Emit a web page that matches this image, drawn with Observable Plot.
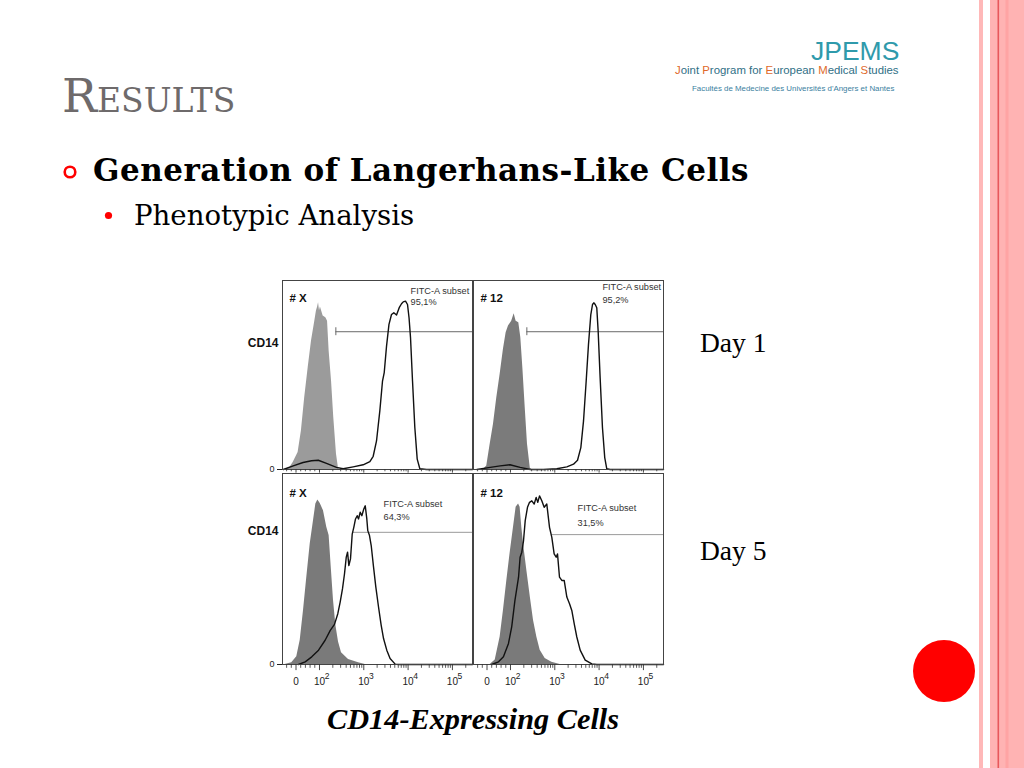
<!DOCTYPE html>
<html><head><meta charset="utf-8">
<script src="https://cdn.jsdelivr.net/npm/d3@7"></script>
<script src="https://cdn.jsdelivr.net/npm/@observablehq/plot@0.6"></script>
<style>
html,body{margin:0;padding:0;background:#fff;}
#slide{position:relative;width:1024px;height:768px;overflow:hidden;background:#fff;}
.panel{position:absolute;}
.panel svg{overflow:visible;}
</style></head>
<body>
<div id="slide">
<svg id="bg" width="1024" height="768" style="position:absolute;left:0;top:0">
  <rect x="979" y="0" width="4" height="768" fill="#ffb8b8"/>
  <rect x="990" y="0" width="34" height="768" fill="#ffb3b3"/>
  <rect x="997.5" y="0" width="1.6" height="768" fill="#e8585c"/>
  <rect x="1005.5" y="0" width="3" height="768" fill="#ffa4a4"/>
  <circle cx="944" cy="671" r="31" fill="#ff0000"/>
  <text x="62" y="112" font-family="DejaVu Serif" font-size="46.5" style="font-variant:small-caps" fill="#6e6a6b">Results</text>
  <circle cx="70" cy="172" r="5.3" fill="none" stroke="#ff0000" stroke-width="2.6"/>
  <text x="93" y="181" font-family="DejaVu Serif" font-weight="bold" font-size="31" letter-spacing="0.5" fill="#000">Generation of Langerhans-Like Cells</text>
  <circle cx="108.5" cy="215.5" r="3.6" fill="#ff0000"/>
  <text x="134" y="225" font-family="DejaVu Serif" font-size="27.6" fill="#000">Phenotypic Analysis</text>
  <text x="811" y="60" font-family="Liberation Sans" font-size="26.5" fill="#2f9aab">JPEMS</text>
  <text x="675" y="74" font-family="Liberation Sans" font-size="11.4" fill="#2f6f86"><tspan fill="#e0692a">J</tspan>oint <tspan fill="#e0692a">P</tspan>rogram for <tspan fill="#e0692a">E</tspan>uropean <tspan fill="#e0692a">M</tspan>edical <tspan fill="#e0692a">S</tspan>tudies</text>
  <text x="692" y="91" font-family="Liberation Sans" font-size="7.9" fill="#3a80a0">Facultés de Medecine des Universités d'Angers et Nantes</text>
  <text x="700" y="352" font-family="Liberation Serif" font-size="27.5" fill="#000">Day 1</text>
  <text x="700" y="560" font-family="Liberation Serif" font-size="27.5" fill="#000">Day 5</text>
  <text x="327" y="729" font-family="Liberation Serif" font-weight="bold" font-style="italic" font-size="30.3" fill="#000">CD14-Expressing Cells</text>
</svg>
</div>
<script>
// ---- data: [fluorescence intensity (FITC-A), % of frame height] ----
const sampleNames = ["# X", "# 12", "# X", "# 12"];
const subsetPct = ["95,1%", "95,2%", "64,3%", "31,5%"];
const dayLabels = ["Day 1", "Day 5"];

// Day 1, sample #X
const day1X_iso = [[-48,0],[-26,1],[-12,3.7],[9,9],[23,20.4],[37,38],[52,54],[66,68],[80,78.5],[87,83.8],[92,86],[96,88.2],[100,84],[105,86],[121,81.2],[139,80.3],[152,78.5],[165,62.7],[187,46.8],[210,27.5],[242,8.1],[269,0.4],[288,0]];
const day1X_cd14 = [[-54,0],[-12,1.9],[30,3.7],[66,4.6],[95,4.9],[144,3.2],[242,1.1],[343,0.4],[576,1.4],[967,2.5],[1370,4.2],[1630,7],[1937,15.1],[2300,31],[2645,46.8],[2890,51.2],[3260,65.3],[3700,76.8],[4220,82],[4760,82.9],[5480,81.7],[6300,85.6],[7100,87.7],[7760,88.7],[8740,89.1],[9700,87.3],[10500,80.3],[11340,69.7],[12580,46.8],[14180,22.2],[16050,5.5],[18400,0.4],[26000,0],[284000,0]];
// Day 1, sample #12
const day1_12_iso = [[-15,0],[-1,1.9],[13.5,13.4],[27.6,24],[41.7,38],[56,50.4],[70,63.6],[81.5,72.4],[91.5,75.9],[106.5,78.5],[121,82.4],[134,78.5],[154,77.6],[171,69.7],[190,53.9],[215,32.7],[242,13.4],[280,0.7],[303,0]];
const day1_12_cd14 = [[-43,0],[13.5,1.1],[56,1.9],[98,2.5],[165,1.1],[280,0],[556,0],[1110,0.4],[1870,1.4],[2645,2.8],[3260,4.9],[3870,11.6],[4450,25.7],[5110,46.8],[5760,66.2],[6500,82],[7100,87.3],[7590,88.2],[8170,87.3],[8860,85.6],[9520,73.2],[10550,48.6],[11900,22.2],[13400,6.3],[14860,0.4],[17700,0],[284000,0]];
// Day 5, sample #X
const day5X_iso = [[-46.5,0],[-18,0.9],[3.3,4],[18,12.7],[32,28.3],[46,45.7],[60.5,63.1],[74.5,75.3],[84.5,84],[93,86.1],[104,84.3],[123,80.5],[146,71.8],[165,67.5],[184,51],[207,33.6],[234,20.5],[269,11.8],[314,6.1],[452,2.6],[760,0.9],[1078,0]];
const day5X_cd14 = [[10.6,0],[39,1.4],[67,4],[96,7.5],[134,12.7],[175,17.9],[218,21],[259,26.6],[293,32.7],[331,39.7],[367,47.5],[402,56.2],[430,58.8],[460,51.8],[501,55.3],[548,68.3],[595,71.8],[650,76.2],[710,77.9],[760,76.2],[830,79.7],[904,77.9],[1000,81.4],[1078,83.1],[1170,76.2],[1230,70.1],[1345,67.5],[1470,62.3],[1660,51],[1870,40.5],[2150,30.1],[2470,20.5],[2790,13.6],[3300,7.5],[3920,3.1],[5110,0.2],[6080,0],[284000,0]];
// Day 5, sample #12
const day5_12_iso = [[13.5,0],[35,2.3],[56,14.4],[70,28.3],[84.5,44],[98,57.9],[117,71.8],[134,82.3],[152,84],[165,82.3],[180,71.8],[197,63.1],[234,49.2],[280,35.3],[331,23.1],[393,14.4],[468,7.5],[606,3.1],[857,1.2],[1320,0]];
const day5_12_cd14 = [[20.4,0],[49,1.4],[70,4],[91.5,11],[106.5,19.7],[126,33.6],[152,45.7],[165,56.2],[180,58.8],[197,64.9],[215,75.3],[242,82.3],[269,84.9],[303,85.7],[343,84],[380,87.5],[413,84.9],[452,88.3],[509,85.7],[576,82.3],[660,84],[760,71.8],[857,66.6],[967,57.9],[1074,56.2],[1151,57.9],[1277,45.7],[1440,44],[1630,44],[1870,35.3],[2150,31.8],[2420,28.3],[2740,21.4],[3140,14.4],[3740,7.5],[4860,2.3],[6850,0.3],[8860,0],[284000,0]];

// FITC-A subset gates: level (% height) and start intensity
const gateLevel = [72.9, 72.9, 69.2, 68];
const gateStart = [234, 234, 585, 857];

// x-axis ticks (biexponential display)
const majorTicks = [0, 100, 1000, 10000, 100000];
const tickBase = ["0", "10", "10", "10", "10"];
const tickExp = ["", "2", "3", "4", "5"];
const minorTicks = [-40,-20,20,40,60,80,200,300,400,500,600,700,800,900,2000,3000,4000,5000,6000,7000,8000,9000,20000,30000,40000,50000,60000,70000,80000,90000,200000];

// ---- biexponential-like transform (linear near zero, log above 100) ----
const X_MIN = -57.5, X_MAX = 284000;
const g = v => v >= 100 ? Math.log10(v) : 1.47 + v * 0.0053;

const panels = [
  {left:232, top:278, col:0, row:0, iso:day1X_iso,  cd14:day1X_cd14,  fill:"#9b9b9b", label:[11340, 94.2, 88.4]},
  {left:472, top:278, col:1, row:0, iso:day1_12_iso, cd14:day1_12_cd14, fill:"#7b7b7b", label:[11900, 96.3, 89.9]},
  {left:232, top:471, col:0, row:1, iso:day5X_iso,  cd14:day5X_cd14,  fill:"#7a7a7a", label:[2790, 83.8, 77]},
  {left:472, top:471, col:1, row:1, iso:day5_12_iso, cd14:day5_12_cd14, fill:"#7a7a7a", label:[3260, 81.7, 74.3]}
];

const slide = document.getElementById("slide");
panels.forEach((p, k) => {
  const isLeft = p.col === 0, isBottom = p.row === 1;
  const innerW = 190, innerH = isBottom ? 191 : 189;
  const mL = isLeft ? 50 : 1, mR = isLeft ? 1 : 4, mT = 2, mB = isBottom ? 30 : 6;
  const tickLen = isBottom ? 2 : 1.2;
  const gate = [{y: gateLevel[k], x1: gateStart[k], x2: X_MAX}];
  const marks = [
    Plot.areaY(p.iso, {x: d => d[0], y: d => d[1], fill: p.fill}),
    Plot.ruleY(gate, {y: "y", x1: "x1", x2: "x2", stroke: isBottom ? "#9a9a9a" : "#6a6a6a", strokeWidth: 1}),
    Plot.lineY(p.cd14, {x: d => d[0], y: d => d[1], stroke: "#111", strokeWidth: 1.4}),
    Plot.frame({stroke: "#444", strokeWidth: 1}),
    Plot.ruleX(minorTicks, {x: d => d, y1: 0, y2: -tickLen, stroke: "#333", strokeWidth: 0.8}),
    Plot.ruleX(majorTicks, {x: d => d, y1: 0, y2: -tickLen * 1.6, stroke: "#333", strokeWidth: 0.9}),
    Plot.text([sampleNames[k]], {frameAnchor: "top-left", dx: 7, dy: isBottom ? 15 : 13, textAnchor: "start", fontWeight: "bold", fontSize: 11.5, fill: "#111"}),
    Plot.text(["FITC-A subset"], {x: () => p.label[0], y: () => p.label[1], textAnchor: "start", fontSize: 9.2, fill: "#333"}),
    Plot.text([subsetPct[k]], {x: () => p.label[0], y: () => p.label[2], textAnchor: "start", fontSize: 9.2, fill: "#333"})
  ];
  if (!isBottom) {
    marks.push(Plot.ruleX(gate, {x: "x1", y1: d => d.y - 2.1, y2: d => d.y + 2.1, stroke: "#6a6a6a", strokeWidth: 1}));
  }
  if (isLeft) {
    marks.push(Plot.text(["CD14"], {frameAnchor: "left", y: () => isBottom ? 70 : 67, dx: -4, textAnchor: "end", fontWeight: "bold", fontSize: 12, fill: "#111"}));
  }
  if (isBottom) {
    marks.push(Plot.text(majorTicks, {x: d => d, frameAnchor: "bottom", dy: 20, text: (d, i) => tickBase[i], fontSize: 10, fill: "#222"}));
    marks.push(Plot.text(majorTicks, {x: d => d, frameAnchor: "bottom", dx: 7.5, dy: 14, text: (d, i) => tickExp[i], fontSize: 8.5, fill: "#222"}));
  }
  const chart = Plot.plot({
    width: mL + innerW + mR,
    height: mT + innerH + mB,
    marginLeft: mL, marginRight: mR, marginTop: mT, marginBottom: mB,
    x: {type: "linear", transform: g, domain: [X_MIN, X_MAX].map(g), axis: null},
    y: {domain: [0, 100], axis: isLeft ? "left" : null, ticks: [0], tickSize: 5, tickPadding: 3, label: null, tickFormat: d => String(d)},
    style: {background: "transparent", fontFamily: "Liberation Sans", fontSize: "9px", color: "#222", overflow: "visible"},
    marks
  });
  const div = document.createElement("div");
  div.className = "panel";
  div.style.left = p.left + "px";
  div.style.top = p.top + "px";
  div.appendChild(chart);
  slide.appendChild(div);
});
</script>
</body></html>
